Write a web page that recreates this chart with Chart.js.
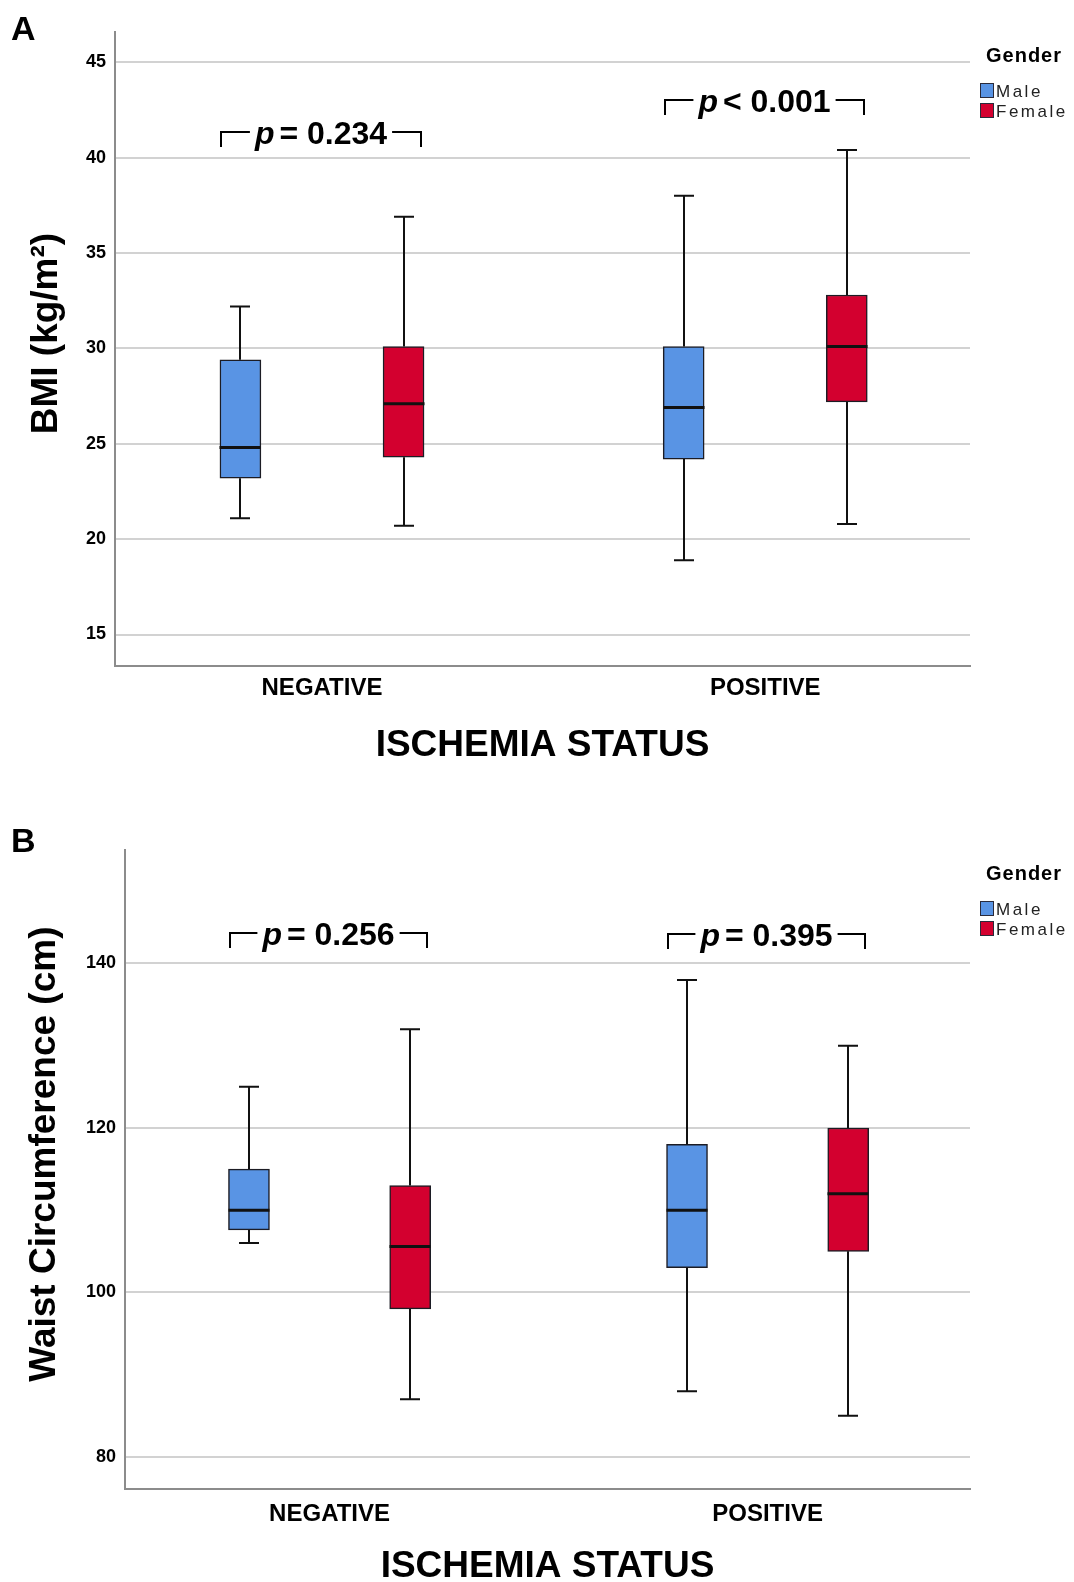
<!DOCTYPE html>
<html>
<head>
<meta charset="utf-8">
<script src="https://cdn.jsdelivr.net/npm/chart.js@4.4.0/dist/chart.umd.min.js"></script>
<style>
  html, body { margin: 0; padding: 0; background: #fff; }
  #wrap { position: relative; width: 1074px; height: 1582px; overflow: hidden; }
  .panel { position: absolute; left: 0; width: 1074px; }
  #panelA { top: 0; height: 800px; }
  #panelB { top: 800px; height: 810px; }
</style>
</head>
<body>
<div id="wrap">
  <div class="panel" id="panelA"><canvas id="chartA"></canvas></div>
  <div class="panel" id="panelB"><canvas id="chartB"></canvas></div>
</div>
<script>
// Box plots: BMI and waist circumference by ischemia status and gender
const CATEGORIES = ['NEGATIVE', 'POSITIVE'];
const GENDERS = ['Male', 'Female'];
// one row per category: [min, Q1, median, Q3, max]
const bmiMale = [[21.1, 23.2, 24.8, 29.4, 32.2], [18.9, 24.2, 26.9, 30.1, 38.0]];
const bmiFemale = [[20.7, 24.3, 27.1, 30.1, 36.9], [20.8, 27.2, 30.1, 32.8, 40.4]];
const waistMale = [[106, 107.6, 110, 115, 125], [88, 103, 110, 118, 138]];
const waistFemale = [[87, 98, 105.6, 113, 132], [85, 105, 112, 120, 130]];
const bmiTicks = [15, 20, 25, 30, 35, 40, 45];
const waistTicks = [80, 100, 120, 140];
const bmiP = ['= 0.234', '< 0.001'];
const waistP = ['= 0.256', '= 0.395'];

const COLORS = { Male: '#5994e4', Female: '#d3002f' };
const SANS = '"Liberation Sans", Arial, sans-serif';
const GROUP_OFFSET = 0.184; // male left / female right of category centre

function boxDataset(label, rows, offset) {
  return {
    label,
    data: rows.map((r, i) => ({ x: i + 1 + offset, y: [r[1], r[3]], stats: r })),
    backgroundColor: COLORS[label],
    borderColor: '#1c1c24',
    borderWidth: 1.5,
    borderSkipped: false,
    barThickness: 41,
    grouped: false
  };
}

// whiskers, caps, medians
const boxPlugin = {
  id: 'boxExtras',
  afterDatasetsDraw(chart) {
    const ctx = chart.ctx, y = chart.scales.y;
    ctx.save();
    ctx.strokeStyle = '#111';
    chart.data.datasets.forEach((ds, di) => {
      chart.getDatasetMeta(di).data.forEach((bar, i) => {
        const s = ds.data[i].stats;
        const x = Math.round(bar.x), half = bar.width / 2;
        const p = s.map(v => y.getPixelForValue(v));
        ctx.lineWidth = 2;
        ctx.beginPath();
        ctx.moveTo(x, p[1]); ctx.lineTo(x, p[0]);
        ctx.moveTo(x, p[3]); ctx.lineTo(x, p[4]);
        ctx.moveTo(x - 10, p[0]); ctx.lineTo(x + 10, p[0]);
        ctx.moveTo(x - 10, p[4]); ctx.lineTo(x + 10, p[4]);
        ctx.stroke();
        ctx.lineWidth = 3;
        ctx.beginPath();
        ctx.moveTo(x - half, p[2]); ctx.lineTo(x + half, p[2]);
        ctx.stroke();
      });
    });
    ctx.restore();
  }
};

// panel letter, legend, p-value brackets
const extrasPlugin = {
  id: 'extras',
  afterDraw(chart, args, opts) {
    const ctx = chart.ctx, area = chart.chartArea, y = chart.scales.y;
    ctx.save();
    ctx.fillStyle = '#000';
    ctx.textAlign = 'left';
    ctx.textBaseline = 'alphabetic';
    ctx.font = 'bold 34px ' + SANS;
    ctx.fillText(opts.letter, 11, opts.letterY);

    // legend
    ctx.font = 'bold 20px ' + SANS;
    ctx.letterSpacing = '1px';
    ctx.fillText('Gender', area.right + 16, area.top + 30);
    ctx.font = '17px ' + SANS;
    ctx.letterSpacing = '2.5px';
    GENDERS.forEach((g, i) => {
      const bx = area.right + 10, by = area.top + 51 + i * 20;
      ctx.fillStyle = COLORS[g];
      ctx.fillRect(bx, by, 13, 14);
      ctx.strokeStyle = '#2a2a3a'; ctx.lineWidth = 1;
      ctx.strokeRect(bx + 0.5, by + 0.5, 13, 14);
      ctx.fillStyle = '#222';
      ctx.fillText(g, bx + 16, by + 14);
    });
    ctx.letterSpacing = '0px';

    // p-value brackets
    const xm = chart.getDatasetMeta(0).data.map(b => b.x);
    const xf = chart.getDatasetMeta(1).data.map(b => b.x);
    ctx.strokeStyle = '#000'; ctx.lineWidth = 2; ctx.fillStyle = '#000';
    opts.pLabels.forEach((lab, i) => {
      const left = Math.round(xm[i] - 19), right = Math.round(xf[i] + 17);
      const yl = Math.round(y.getPixelForValue(opts.pY[i]));
      ctx.font = 'italic bold 32px ' + SANS;
      const wp = ctx.measureText('p').width;
      ctx.font = 'bold 32px ' + SANS;
      const wr = ctx.measureText(lab).width;
      const total = wp + 5 + wr;
      const tx = (left + right) / 2 - total / 2;
      ctx.beginPath();
      ctx.moveTo(left, yl + 15); ctx.lineTo(left, yl); ctx.lineTo(tx - 5, yl);
      ctx.moveTo(tx + total + 5, yl); ctx.lineTo(right, yl); ctx.lineTo(right, yl + 15);
      ctx.stroke();
      ctx.font = 'italic bold 32px ' + SANS;
      ctx.fillText('p', tx, yl + 11.5);
      ctx.font = 'bold 32px ' + SANS;
      ctx.fillText(lab, tx + wp + 5, yl + 11.5);
    });
    ctx.restore();
  }
};

function makeChart(id, c) {
  return new Chart(document.getElementById(id), {
    type: 'bar',
    data: {
      datasets: [boxDataset('Male', c.male, -GROUP_OFFSET), boxDataset('Female', c.female, GROUP_OFFSET)]
    },
    options: {
      responsive: true,
      maintainAspectRatio: false,
      animation: false,
      events: [],
      layout: { padding: { top: c.padTop, right: 104, left: 0, bottom: 0 } },
      plugins: {
        legend: { display: false },
        tooltip: { enabled: false },
        extras: { letter: c.letter, letterY: c.letterY, pLabels: c.pLabels, pY: c.pY }
      },
      scales: {
        x: {
          type: 'linear', min: 0.533, max: 2.462, offset: false,
          afterBuildTicks: s => { s.ticks = CATEGORIES.map((cat, i) => ({ value: i + 1 })); },
          afterFit: s => { s.height = c.xHeight; },
          ticks: {
            callback: (v, i) => CATEGORIES[i],
            font: { family: SANS, size: 24, weight: 'bold' }, color: '#000',
            padding: c.xTickPad, maxRotation: 0, autoSkip: false
          },
          grid: { display: false, drawTicks: false },
          border: { color: '#8c8c8c', width: 2 },
          title: {
            display: true, text: 'ISCHEMIA STATUS', color: '#000',
            font: { family: SANS, size: 37, weight: 'bold' },
            padding: { top: 0, bottom: c.xTitlePad }
          }
        },
        y: {
          min: c.yMin, max: c.yMax,
          afterBuildTicks: s => { s.ticks = c.ticks.map(v => ({ value: v })); },
          afterFit: s => { s.width = c.yWidth; },
          ticks: { font: { family: SANS, size: 18, weight: 'bold' }, color: '#000', padding: 9 },
          grid: { color: '#d2d2d2', lineWidth: 2, drawTicks: false },
          border: { color: '#8c8c8c', width: 2 },
          title: {
            display: true, text: c.yTitle, color: '#000',
            font: { family: SANS, size: 37, weight: 'bold' },
            padding: { top: c.yTitlePad, bottom: 0 }
          }
        }
      }
    },
    plugins: [boxPlugin, extrasPlugin]
  });
}

makeChart('chartA', {
  letter: 'A', letterY: 40, male: bmiMale, female: bmiFemale, ticks: bmiTicks,
  yMin: 13.35, yMax: 46.59, yTitle: '   BMI (kg/m²)', pLabels: bmiP, pY: [41.34, 43.0],
  padTop: 32, yWidth: 115, xHeight: 134, xTickPad: 8, xTitlePad: 32, yTitlePad: 25
});

makeChart('chartB', {
  letter: 'B', letterY: 52, male: waistMale, female: waistFemale, ticks: waistTicks,
  yMin: 76.1, yMax: 153.8, yTitle: '   Waist Circumference (cm)', pLabels: waistP, pY: [143.65, 143.6],
  padTop: 50, yWidth: 125, xHeight: 121, xTickPad: 11, xTitlePad: 21, yTitlePad: 23
});
</script>
</body>
</html>
